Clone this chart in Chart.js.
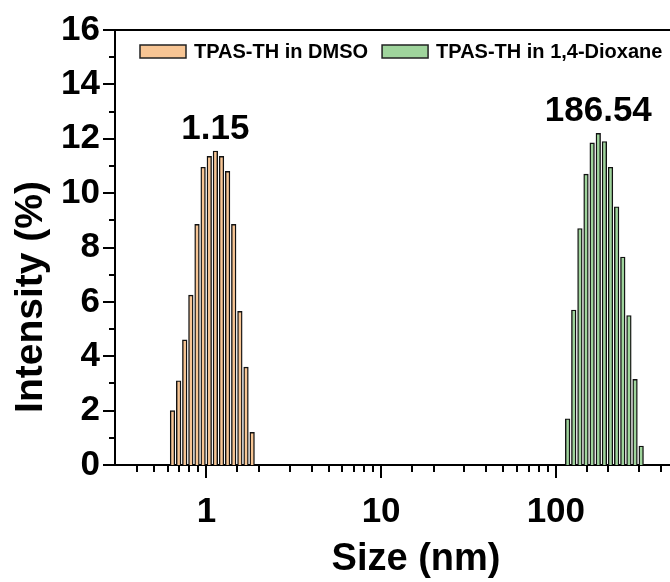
<!DOCTYPE html>
<html>
<head>
<meta charset="utf-8">
<script src="https://cdn.jsdelivr.net/npm/chart.js@4.4.1/dist/chart.umd.min.js"></script>
<style>
  html, body { margin: 0; padding: 0; background: #fff; }
  #wrap { width: 670px; height: 582px; }
</style>
</head>
<body>
<div id="wrap"><canvas id="dlsChart" width="670" height="582"></canvas></div>
<script>
// Distribuzione DLS: diametro (nm) e intensità (%)
const dmsoSize = [0.640, 0.694, 0.752, 0.815, 0.884, 0.958, 1.039, 1.126, 1.221, 1.323, 1.434, 1.555, 1.686, 1.828];
const dmsoInt = [2.0, 3.1, 4.6, 6.25, 8.85, 10.95, 11.35, 11.55, 11.35, 10.8, 8.85, 5.65, 3.6, 1.2];
const dioxSize = [116.8, 126.6, 137.3, 148.8, 161.3, 174.9, 189.6, 205.5, 222.8, 241.6, 261.9, 283.9, 307.8];
const dioxInt = [1.7, 5.7, 8.7, 10.7, 11.85, 12.2, 11.9, 10.95, 9.5, 7.65, 5.5, 3.15, 0.7];
const seriesNames = ['TPAS-TH in DMSO', 'TPAS-TH in 1,4-Dioxane'];
const seriesColors = ['#F7C594', '#9FD49C'];
const peakLabels = ['1.15', '186.54'];
const xTitle = 'Size (nm)';
const yTitle = 'Intensity (%)';

const FONT = '"Liberation Sans", Arial, sans-serif';
Chart.defaults.font.family = FONT;
Chart.defaults.color = '#000';

function isDecade(v) {
    const l = Math.log10(v);
    return Math.abs(l - Math.round(l)) < 1e-6;
}

// tacche, cornice superiore, titoli degli assi, etichette dei picchi e legenda
const decor = {
    id: 'decor',
    afterDraw(chart) {
        const { ctx, chartArea: a, scales: { x, y } } = chart;
        ctx.save();
        ctx.strokeStyle = '#000';
        ctx.lineWidth = 2;
        ctx.beginPath();
        ctx.moveTo(a.left - 1, a.top);
        ctx.lineTo(a.right, a.top);
        x.ticks.forEach(t => {
            if (t.value <= x.min || t.value >= x.max) return;
            const px = Math.round(x.getPixelForValue(t.value));
            ctx.moveTo(px, a.bottom);
            ctx.lineTo(px, a.bottom + (isDecade(t.value) ? 13 : 7));
        });
        y.ticks.forEach(t => {
            const py = Math.round(y.getPixelForValue(t.value));
            ctx.moveTo(a.left, py);
            ctx.lineTo(a.left - (t.value % 2 === 0 ? 12 : 6), py);
        });
        ctx.stroke();

        // titoli degli assi
        ctx.fillStyle = '#000';
        ctx.font = 'bold 38px ' + FONT;
        ctx.textAlign = 'center';
        ctx.textBaseline = 'middle';
        ctx.fillText(xTitle, 416, 560);
        ctx.save();
        ctx.translate(31, 297);
        ctx.rotate(-Math.PI / 2);
        ctx.font = 'bold 39px ' + FONT;
        ctx.fillText(yTitle, 0, 0);
        ctx.restore();

        // etichette dei picchi
        ctx.font = 'bold 35px ' + FONT;
        ctx.textBaseline = 'alphabetic';
        chart.data.datasets.forEach((ds, i) => {
            let k = 0;
            ds.data.forEach((p, j) => { if (p.y > ds.data[k].y) k = j; });
            const bar = chart.getDatasetMeta(i).data[k];
            ctx.fillText(peakLabels[i], bar.x, bar.y - 12);
        });

        // legenda dentro l'area del grafico
        ctx.font = 'bold 20px ' + FONT;
        ctx.textAlign = 'left';
        ctx.textBaseline = 'middle';
        let lx = 140;
        const ly = 45;
        seriesNames.forEach((name, i) => {
            ctx.fillStyle = seriesColors[i];
            ctx.fillRect(lx, ly, 46, 13);
            ctx.lineWidth = 1.5;
            ctx.strokeStyle = '#222';
            ctx.strokeRect(lx, ly, 46, 13);
            ctx.fillStyle = '#000';
            ctx.fillText(name, lx + 54, ly + 7);
            lx += 54 + ctx.measureText(name).width + 14;
        });
        ctx.restore();
    }
};

const ctx = document.getElementById('dlsChart').getContext('2d');
new Chart(ctx, {
    type: 'bar',
    data: {
        datasets: [
            {
                label: seriesNames[0],
                data: dmsoSize.map((s, i) => ({ x: s, y: dmsoInt[i] })),
                backgroundColor: seriesColors[0],
                borderColor: '#111',
                borderWidth: 1.4,
                barThickness: 4.6,
                grouped: false
            },
            {
                label: seriesNames[1],
                data: dioxSize.map((s, i) => ({ x: s, y: dioxInt[i] })),
                backgroundColor: seriesColors[1],
                borderColor: '#111',
                borderWidth: 1.4,
                barThickness: 4.6,
                grouped: false
            }
        ]
    },
    options: {
        responsive: false,
        animation: false,
        layout: { padding: { top: 30, right: 0, left: 0, bottom: 0 } },
        plugins: {
            legend: { display: false },
            tooltip: { enabled: false }
        },
        scales: {
            x: {
                type: 'logarithmic',
                min: 0.3,
                max: 450,
                offset: false,
                // tickLength sposta solo le etichette: le tacche le disegna il plugin
                grid: { display: false, drawTicks: true, tickLength: 26 },
                border: { display: true, color: '#000', width: 2 },
                ticks: {
                    autoSkip: false,
                    maxRotation: 0,
                    padding: 0,
                    font: { size: 35, weight: 'bold' },
                    callback: v => isDecade(v) ? String(Math.round(v)) : ''
                },
                afterFit: s => { s.height = 117; }
            },
            y: {
                min: 0,
                max: 16,
                grid: { display: false, drawTicks: true, tickLength: 12 },
                border: { display: true, color: '#000', width: 2 },
                ticks: {
                    stepSize: 1,
                    autoSkip: false,
                    padding: 3,
                    font: { size: 35, weight: 'bold' },
                    callback: v => v % 2 === 0 ? String(v) : ''
                },
                afterFit: s => { s.width = 115; }
            }
        }
    },
    plugins: [decor]
});
</script>
</body>
</html>
